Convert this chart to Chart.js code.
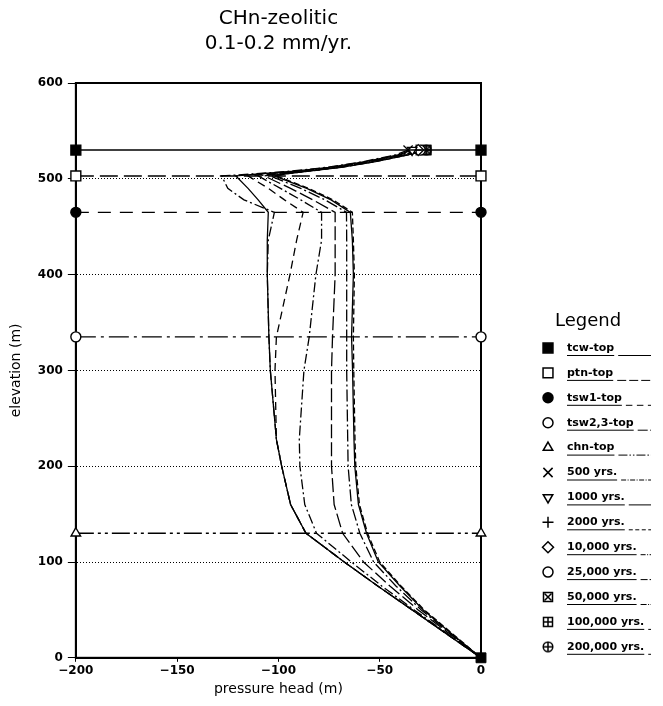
<!DOCTYPE html>
<html>
<head>
<meta charset="utf-8">
<script src="https://cdn.jsdelivr.net/npm/chart.js@4.4.1/dist/chart.umd.min.js"></script>
<style>
  html, body { margin: 0; padding: 0; background: #fff; }
  #wrap { width: 663px; height: 706px; }
</style>
</head>
<body>
<div id="wrap"><canvas id="heads"></canvas></div>
<script>
// elevation (m) of every sample along the pressure head profiles
const elevation = [530, 525, 518, 512, 508, 505, 503, 490, 478, 465, 436, 400, 335, 300, 228, 200, 160, 130, 100, 75, 50, 25, 0];

// pressure head (m) at those elevations, one list per time
const head500    = [-36, -42, -58, -76, -94, -113, -128, -125, -117, -102, -105, -105.5, -104.7, -104, -101, -98.4, -94, -86.4, -67.5, -51, -34, -17, 0];
const head1000   = [-34, -41, -57, -75, -92, -110, -121, -115, -110, -105, -105.5, -105.5, -104.7, -104, -101, -98.4, -94, -86.4, -67.5, -51, -34, -17, 0];
const head2000   = [-32, -40, -56, -73, -90, -106, -115, -105, -97, -87.8, -91, -94.3, -101, -101.7, -101, -98.4, -94, -86.4, -67.5, -51, -34, -17, 0];
const head10000  = [-31, -39, -55, -72, -88, -103, -110, -99, -89, -78.7, -78.7, -81.5, -84.8, -87.4, -89.7, -89.4, -87, -81.2, -64, -49, -33, -16.5, 0];
const head25000  = [-30, -38, -54, -71, -87, -101, -107, -94, -83, -72, -72, -72, -73.3, -73.8, -73.8, -73.8, -72.5, -68.3, -58, -45, -31, -15.5, 0];
const head50000  = [-27, -37, -53, -70, -86, -99, -104, -89, -77, -66.4, -66.3, -66.3, -66.3, -66.3, -65.8, -65.6, -64, -59.8, -53, -42, -29.5, -15, 0];
const head100000 = [-27, -36, -52, -69, -85, -97, -102, -86, -74, -64.5, -63.5, -63, -63.9, -63.4, -62.7, -62.3, -60.5, -56.5, -50.7, -40, -28.5, -14.5, 0];
const head200000 = [-27, -36, -52, -69, -85, -97, -101, -85, -73, -63.5, -63, -62.5, -63, -62.8, -62.2, -61.8, -60, -56, -50, -39.5, -28, -14, 0];

const timeLabels = ['500 yrs.', '1000 yrs.', '2000 yrs.', '10,000 yrs.', '25,000 yrs.', '50,000 yrs.', '100,000 yrs.', '200,000 yrs.'];
const timeHeads  = [head500, head1000, head2000, head10000, head25000, head50000, head100000, head200000];

// unit tops, drawn across the whole head range
const layerNames = ['tcw-top', 'ptn-top', 'tsw1-top', 'tsw2,3-top', 'chn-top'];
const layerElev  = [530, 503, 465, 335, 130];
const layerHead  = [-200, 0];

// water table at the bottom of the column
const tableHead = [0];
const tableElev = [0];

// small boxed / circled symbols that Chart.js has no built-in style for
function symbol(kind) {
  const c = document.createElement('canvas');
  c.width = 12; c.height = 12;
  const g = c.getContext('2d');
  g.strokeStyle = '#000'; g.lineWidth = 1.5;
  if (kind === 'circlePlus') {
    g.beginPath(); g.arc(6, 6, 4.8, 0, Math.PI * 2); g.stroke();
  } else {
    g.strokeRect(1.5, 1.5, 9, 9);
  }
  g.beginPath();
  if (kind === 'boxX') {
    g.moveTo(2.5, 2.5); g.lineTo(9.5, 9.5); g.moveTo(9.5, 2.5); g.lineTo(2.5, 9.5);
  } else {
    g.moveTo(6, 1); g.lineTo(6, 11); g.moveTo(1, 6); g.lineTo(11, 6);
  }
  g.stroke();
  return c;
}

const layerStyle = [
  { pointStyle: 'rect', fill: '#000', radius: 7, dash: [] },
  { pointStyle: 'rect', fill: '#fff', radius: 7, dash: [18, 6] },
  { pointStyle: 'circle', fill: '#000', radius: 5, dash: [13, 9] },
  { pointStyle: 'circle', fill: '#fff', radius: 5, dash: [20, 5, 3, 5] },
  { pointStyle: 'triangle', fill: '#fff', radius: 5.5, dash: [18, 4, 3, 4, 3, 4] }
];
const timeStyle = [
  { pointStyle: 'crossRot', fill: '#000', radius: 6.5, rotation: 0, dash: [10, 3, 2, 3] },
  { pointStyle: 'triangle', fill: '#fff', radius: 5.5, rotation: 180, dash: [] },
  { pointStyle: 'cross', fill: '#000', radius: 5.5, rotation: 0, dash: [8, 5] },
  { pointStyle: 'rectRot', fill: '#fff', radius: 5.5, rotation: 0, dash: [10, 3, 2, 3] },
  { pointStyle: 'circle', fill: '#fff', radius: 5, rotation: 0, dash: [14, 4] },
  { pointStyle: symbol('boxX'), fill: '#fff', radius: 6, rotation: 0, dash: [12, 3, 2, 3] },
  { pointStyle: symbol('boxPlus'), fill: '#fff', radius: 6, rotation: 0, dash: [] },
  { pointStyle: symbol('circlePlus'), fill: '#fff', radius: 6, rotation: 0, dash: [6, 3] }
];

const datasets = [];
layerNames.forEach((name, i) => {
  const s = layerStyle[i];
  datasets.push({
    label: name,
    legendRadius: s.radius,
    data: layerHead.map(h => ({ x: h, y: layerElev[i] })),
    clip: false,
    showLine: true,
    borderColor: '#000',
    borderWidth: 1.4,
    borderDash: s.dash,
    pointStyle: s.pointStyle,
    pointRadius: s.radius,
    pointBackgroundColor: s.fill,
    pointBorderColor: '#000',
    pointBorderWidth: 1.4
  });
});
timeLabels.forEach((name, i) => {
  const s = timeStyle[i];
  datasets.push({
    label: name,
    legendRadius: s.radius,
    data: elevation.map((e, k) => ({ x: timeHeads[i][k], y: e })),
    showLine: true,
    tension: 0,
    borderColor: '#000',
    borderWidth: 1.3,
    borderDash: s.dash,
    pointStyle: s.pointStyle,
    pointRotation: s.rotation,
    pointRadius: c => (c.dataIndex === 0 ? s.radius : 0),
    pointBackgroundColor: s.fill,
    pointBorderColor: '#000',
    pointBorderWidth: 1.3
  });
});
datasets.push({
  label: 'water table',
  skipLegend: true,
  clip: false,
  data: tableHead.map((h, k) => ({ x: h, y: tableElev[k] })),
  pointStyle: 'rect',
  pointRadius: 7,
  pointBackgroundColor: '#000',
  pointBorderColor: '#000'
});

// plot frame on all four sides
const framePlugin = {
  id: 'frame',
  beforeDatasetsDraw(chart) {
    const a = chart.chartArea, ctx = chart.ctx;
    ctx.save();
    ctx.strokeStyle = '#000';
    ctx.lineWidth = 2;
    ctx.strokeRect(a.left, a.top, a.right - a.left, a.bottom - a.top);
    ctx.restore();
  }
};

// legend at the right: symbol, underlined label, line sample
const sideLegend = {
  id: 'sideLegend',
  afterDraw(chart) {
    const ctx = chart.ctx;
    ctx.save();
    ctx.fillStyle = '#000';
    ctx.textBaseline = 'middle';
    ctx.textAlign = 'center';
    ctx.font = '18px "DejaVu Sans"';
    ctx.fillText('Legend', 588, 321);
    ctx.textAlign = 'left';
    let k = 0;
    chart.data.datasets.forEach(ds => {
      if (ds.skipLegend) return;
      const y = 348 + k * 24.9;
      k++;
      ctx.fillStyle = ds.pointBackgroundColor;
      ctx.strokeStyle = '#000';
      ctx.lineWidth = 1.5;
      ctx.setLineDash([]);
      Chart.helpers.drawPoint(ctx, {
        pointStyle: ds.pointStyle,
        rotation: ds.pointRotation || 0,
        radius: ds.legendRadius,
        borderWidth: 1.5
      }, 548, y);
      ctx.fillStyle = '#000';
      ctx.font = 'bold 11px "DejaVu Sans"';
      ctx.fillText(ds.label, 567, y);
      const w = ctx.measureText(ds.label).width;
      ctx.lineWidth = 1;
      ctx.beginPath();
      ctx.moveTo(567, y + 7.5);
      ctx.lineTo(567 + w, y + 7.5);
      ctx.stroke();
      ctx.setLineDash(ds.borderDash && ds.borderDash.length ? ds.borderDash.map(v => v * 0.5) : []);
      ctx.beginPath();
      ctx.moveTo(567 + w + 4, y + 7.5);
      ctx.lineTo(651, y + 7.5);
      ctx.stroke();
    });
    ctx.restore();
  }
};

new Chart(document.getElementById('heads'), {
  type: 'scatter',
  data: { datasets: datasets },
  plugins: [framePlugin, sideLegend],
  options: {
    animation: false,
    responsive: true,
    maintainAspectRatio: false,
    layout: { padding: { left: 8, right: 182, top: 4, bottom: 8 } },
    plugins: {
      legend: { display: false },
      tooltip: { enabled: false },
      title: {
        display: true,
        fullSize: false,
        text: ['CHn-zeolitic', '0.1-0.2 mm/yr.'],
        color: '#000',
        font: { family: '"DejaVu Sans"', size: 20, weight: 'normal', lineHeight: 1.25 },
        padding: { top: 2, bottom: 27 }
      }
    },
    scales: {
      x: {
        type: 'linear',
        min: -200,
        max: 0,
        ticks: {
          stepSize: 50,
          color: '#000',
          padding: 2,
          font: { family: '"DejaVu Sans"', size: 12, weight: 'bold' },
          callback: v => String(v).replace('-', '\u2212')
        },
        grid: { drawOnChartArea: false, tickLength: 4, color: '#000', tickBorderDash: [] },
        border: { color: '#000', width: 2 },
        title: {
          display: true,
          text: 'pressure head (m)',
          color: '#000',
          font: { family: '"DejaVu Sans"', size: 14 },
          padding: { top: 1, bottom: 0 }
        }
      },
      y: {
        min: 0,
        max: 600,
        ticks: {
          stepSize: 100,
          color: '#000',
          padding: 5,
          font: { family: '"DejaVu Sans"', size: 12, weight: 'bold' }
        },
        grid: { color: '#000', lineWidth: 1, tickLength: 8, tickBorderDash: [] },
        border: { color: '#000', width: 2, dash: [1, 2] },
        title: {
          display: true,
          text: 'elevation (m)',
          color: '#000',
          font: { family: '"DejaVu Sans"', size: 14 },
          padding: { top: 0, bottom: 8 }
        }
      }
    }
  }
});
</script>
</body>
</html>
